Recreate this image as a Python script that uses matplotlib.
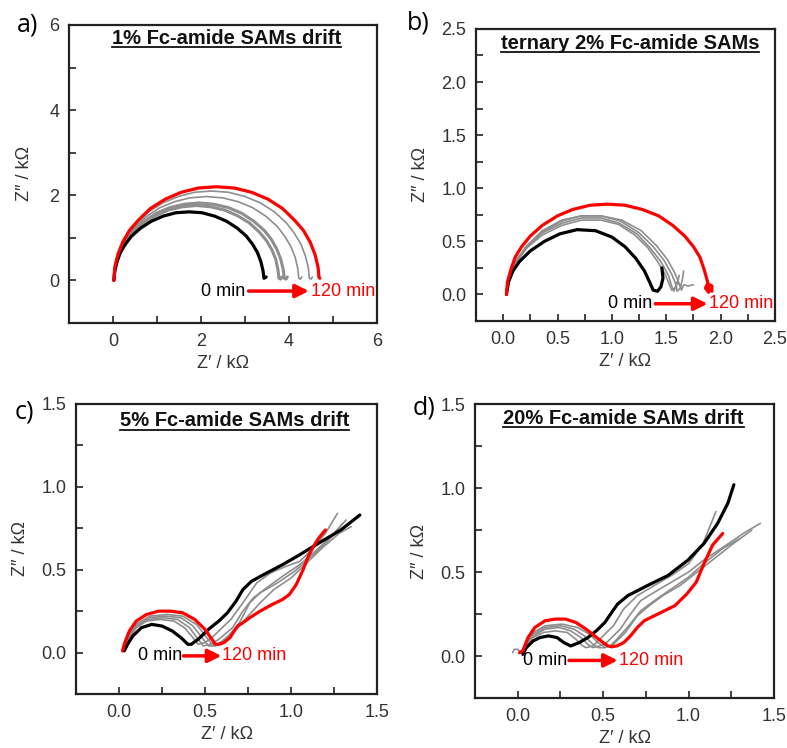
import matplotlib
matplotlib.use("Agg")
import matplotlib.pyplot as plt
from matplotlib.ticker import MultipleLocator
from matplotlib.lines import Line2D

plt.rcParams['font.family'] = ['Liberation Sans', 'DejaVu Sans']

RED = '#ff0000'
BLACK = '#000000'
GRAY = '#8e8e8e'

# ---------------- panel a: 1% Fc-amide ----------------
a_black_x = [0.02, 0.04, 0.09, 0.17, 0.28, 0.42, 0.63, 0.87, 1.14, 1.43, 1.73, 2.02, 2.31, 2.58, 2.82, 3.03, 3.17, 3.28, 3.36, 3.41, 3.43, 3.48]
a_black_y = [0.00, 0.22, 0.44, 0.66, 0.85, 1.04, 1.23, 1.39, 1.51, 1.59, 1.61, 1.59, 1.51, 1.39, 1.23, 1.04, 0.85, 0.66, 0.44, 0.22, 0.05, 0.08]
a_gray1_x = [0.02, 0.04, 0.09, 0.18, 0.30, 0.46, 0.69, 0.96, 1.25, 1.57, 1.90, 2.22, 2.54, 2.83, 3.10, 3.33, 3.49, 3.61, 3.70, 3.75, 3.77, 3.81, 3.84]
a_gray1_y = [0.00, 0.24, 0.49, 0.72, 0.93, 1.13, 1.35, 1.52, 1.65, 1.73, 1.76, 1.73, 1.65, 1.52, 1.35, 1.13, 0.93, 0.72, 0.49, 0.24, 0.05, 0.03, 0.08]
a_gray2_x = [0.02, 0.04, 0.10, 0.19, 0.31, 0.47, 0.71, 0.99, 1.29, 1.62, 1.96, 2.29, 2.62, 2.92, 3.20, 3.44, 3.60, 3.72, 3.81, 3.87, 3.89, 3.93, 3.96]
a_gray2_y = [0.00, 0.25, 0.50, 0.74, 0.96, 1.17, 1.39, 1.58, 1.71, 1.79, 1.82, 1.79, 1.71, 1.58, 1.39, 1.17, 0.96, 0.74, 0.50, 0.25, 0.05, 0.03, 0.08]
a_gray3_x = [0.02, 0.04, 0.10, 0.20, 0.34, 0.51, 0.77, 1.07, 1.40, 1.75, 2.12, 2.49, 2.84, 3.17, 3.47, 3.73, 3.90, 4.04, 4.14, 4.20, 4.22, 4.26, 4.29]
a_gray3_y = [0.00, 0.27, 0.54, 0.80, 1.04, 1.27, 1.51, 1.71, 1.85, 1.94, 1.97, 1.94, 1.85, 1.71, 1.51, 1.27, 1.04, 0.80, 0.54, 0.27, 0.05, 0.03, 0.08]
a_gray4_x = [0.02, 0.04, 0.11, 0.21, 0.36, 0.54, 0.81, 1.13, 1.48, 1.85, 2.24, 2.63, 3.00, 3.35, 3.67, 3.94, 4.12, 4.27, 4.37, 4.44, 4.46, 4.50, 4.53]
a_gray4_y = [0.00, 0.29, 0.58, 0.85, 1.11, 1.35, 1.61, 1.82, 1.97, 2.07, 2.10, 2.07, 1.97, 1.82, 1.61, 1.35, 1.11, 0.85, 0.58, 0.29, 0.05, 0.03, 0.08]
a_red_x = [0.02, 0.04, 0.11, 0.22, 0.37, 0.57, 0.85, 1.19, 1.55, 1.94, 2.35, 2.76, 3.15, 3.52, 3.85, 4.13, 4.33, 4.48, 4.59, 4.66, 4.68, 4.70]
a_red_y = [0.00, 0.31, 0.61, 0.90, 1.17, 1.41, 1.69, 1.91, 2.07, 2.17, 2.20, 2.17, 2.07, 1.91, 1.69, 1.41, 1.17, 0.90, 0.61, 0.31, 0.07, 0.05]

# ---------------- panel b: ternary 2% ----------------
b_black_x = [0.03, 0.05, 0.09, 0.15, 0.25, 0.38, 0.52, 0.68, 0.85, 1.00, 1.12, 1.22, 1.30, 1.35, 1.38, 1.42, 1.45, 1.47, 1.46]
b_black_y = [0.00, 0.12, 0.22, 0.31, 0.41, 0.50, 0.57, 0.61, 0.60, 0.54, 0.45, 0.34, 0.22, 0.11, 0.04, 0.03, 0.07, 0.15, 0.25]
b_gray1_x = [0.03, 0.06, 0.12, 0.22, 0.36, 0.54, 0.72, 0.90, 1.08, 1.25, 1.38, 1.48, 1.55, 1.59, 1.60, 1.63, 1.65, 1.66]
b_gray1_y = [0.00, 0.18, 0.32, 0.46, 0.59, 0.69, 0.74, 0.74, 0.69, 0.58, 0.45, 0.32, 0.19, 0.09, 0.03, 0.06, 0.15, 0.22]
b_gray2_x = [0.03, 0.06, 0.12, 0.22, 0.36, 0.54, 0.72, 0.90, 1.07, 1.23, 1.35, 1.45, 1.52, 1.55, 1.57, 1.60, 1.62]
b_gray2_y = [0.00, 0.17, 0.31, 0.45, 0.58, 0.67, 0.72, 0.72, 0.67, 0.57, 0.44, 0.31, 0.18, 0.08, 0.03, 0.10, 0.18]
b_gray3_x = [0.03, 0.06, 0.12, 0.22, 0.36, 0.54, 0.72, 0.90, 1.06, 1.21, 1.33, 1.42, 1.49, 1.53, 1.55, 1.58, 1.60, 1.63]
b_gray3_y = [0.00, 0.17, 0.30, 0.44, 0.56, 0.65, 0.70, 0.70, 0.66, 0.56, 0.44, 0.31, 0.19, 0.09, 0.04, 0.06, 0.12, 0.08]
b_gray4_x = [0.03, 0.06, 0.12, 0.22, 0.36, 0.54, 0.72, 0.90, 1.09, 1.27, 1.41, 1.51, 1.58, 1.62, 1.64, 1.66, 1.70, 1.75]
b_gray4_y = [0.00, 0.18, 0.32, 0.46, 0.60, 0.70, 0.74, 0.74, 0.70, 0.60, 0.46, 0.33, 0.20, 0.10, 0.04, 0.09, 0.08, 0.09]
b_red_x = [0.03, 0.04, 0.07, 0.11, 0.17, 0.25, 0.36, 0.50, 0.64, 0.80, 0.96, 1.12, 1.28, 1.43, 1.56, 1.67, 1.75, 1.81, 1.85, 1.88, 1.89, 1.92, 1.92, 1.88, 1.86, 1.89]
b_red_y = [0.00, 0.12, 0.23, 0.35, 0.45, 0.55, 0.65, 0.74, 0.80, 0.84, 0.85, 0.84, 0.80, 0.74, 0.65, 0.55, 0.45, 0.35, 0.23, 0.12, 0.05, 0.03, 0.08, 0.10, 0.06, 0.02]

# ---------------- panel c: 5% ----------------
c_black_x = [0.03, 0.05, 0.08, 0.13, 0.19, 0.25, 0.31, 0.36, 0.40, 0.42, 0.46, 0.52, 0.58, 0.63, 0.68, 0.72, 0.77, 0.84, 0.95, 1.05, 1.16, 1.29, 1.40]
c_black_y = [0.01, 0.05, 0.10, 0.15, 0.17, 0.16, 0.13, 0.09, 0.05, 0.05, 0.08, 0.14, 0.19, 0.24, 0.31, 0.38, 0.43, 0.47, 0.53, 0.59, 0.66, 0.74, 0.83]
c_gray1_x = [0.03, 0.06, 0.10, 0.16, 0.24, 0.32, 0.38, 0.43, 0.46, 0.50, 0.55, 0.60, 0.65, 0.72, 0.80, 0.88, 0.97, 1.05, 1.12, 1.20, 1.27]
c_gray1_y = [0.01, 0.09, 0.15, 0.19, 0.20, 0.19, 0.15, 0.09, 0.05, 0.06, 0.10, 0.15, 0.20, 0.30, 0.42, 0.48, 0.52, 0.55, 0.62, 0.72, 0.84]
c_gray2_x = [0.03, 0.06, 0.10, 0.17, 0.26, 0.34, 0.41, 0.46, 0.49, 0.53, 0.58, 0.66, 0.72, 0.78, 0.87, 0.95, 1.05, 1.15, 1.25, 1.32]
c_gray2_y = [0.01, 0.10, 0.16, 0.20, 0.21, 0.20, 0.15, 0.08, 0.04, 0.05, 0.08, 0.15, 0.25, 0.33, 0.40, 0.46, 0.53, 0.62, 0.72, 0.80]
c_gray3_x = [0.03, 0.06, 0.10, 0.17, 0.27, 0.36, 0.43, 0.49, 0.52, 0.56, 0.60, 0.68, 0.75, 0.82, 0.90, 1.00, 1.10, 1.18, 1.28, 1.35]
c_gray3_y = [0.01, 0.10, 0.17, 0.21, 0.22, 0.21, 0.16, 0.08, 0.04, 0.04, 0.07, 0.14, 0.22, 0.30, 0.38, 0.45, 0.55, 0.63, 0.72, 0.76]
c_gray4_x = [0.03, 0.06, 0.10, 0.18, 0.28, 0.37, 0.45, 0.51, 0.54, 0.58, 0.62, 0.70, 0.76, 0.82, 0.92, 1.02, 1.12, 1.22, 1.30]
c_gray4_y = [0.01, 0.11, 0.17, 0.22, 0.23, 0.22, 0.17, 0.09, 0.05, 0.05, 0.08, 0.18, 0.30, 0.36, 0.42, 0.49, 0.58, 0.68, 0.78]
c_red_x = [0.02, 0.03, 0.06, 0.10, 0.16, 0.23, 0.30, 0.37, 0.44, 0.50, 0.54, 0.56, 0.58, 0.61, 0.645, 0.67, 0.69, 0.72, 0.76, 0.82, 0.89, 0.95, 0.99, 1.03, 1.07, 1.10, 1.13, 1.16, 1.20]
c_red_y = [0.01, 0.05, 0.13, 0.19, 0.23, 0.25, 0.25, 0.24, 0.20, 0.14, 0.08, 0.05, 0.05, 0.06, 0.09, 0.13, 0.16, 0.18, 0.21, 0.25, 0.29, 0.32, 0.35, 0.41, 0.50, 0.58, 0.64, 0.69, 0.74]

# ---------------- panel d: 20% ----------------
d_black_x = [0.03, 0.05, 0.09, 0.13, 0.18, 0.23, 0.27, 0.31, 0.36, 0.41, 0.46, 0.51, 0.55, 0.585, 0.645, 0.76, 0.88, 0.995, 1.09, 1.17, 1.23, 1.265]
d_black_y = [0.01, 0.05, 0.09, 0.11, 0.12, 0.11, 0.08, 0.06, 0.08, 0.11, 0.15, 0.20, 0.26, 0.31, 0.36, 0.42, 0.48, 0.57, 0.67, 0.79, 0.91, 1.02]
d_gray1_x = [-0.03, -0.02, 0.00, 0.02, 0.05, 0.09, 0.15, 0.22, 0.29, 0.34, 0.38, 0.40, 0.44, 0.48, 0.56, 0.62, 0.70, 0.80, 0.90, 1.00, 1.08, 1.16]
d_gray1_y = [0.02, 0.04, 0.04, 0.02, 0.07, 0.11, 0.14, 0.15, 0.14, 0.10, 0.06, 0.05, 0.06, 0.10, 0.18, 0.28, 0.36, 0.42, 0.48, 0.55, 0.66, 0.86]
d_gray2_x = [0.02, 0.05, 0.09, 0.16, 0.24, 0.31, 0.37, 0.41, 0.44, 0.48, 0.52, 0.60, 0.66, 0.72, 0.80, 0.90, 1.00, 1.10, 1.22, 1.32, 1.42]
d_gray2_y = [0.02, 0.08, 0.12, 0.16, 0.17, 0.15, 0.11, 0.07, 0.05, 0.06, 0.08, 0.16, 0.25, 0.33, 0.38, 0.44, 0.50, 0.58, 0.66, 0.73, 0.79]
d_gray3_x = [0.02, 0.05, 0.09, 0.16, 0.25, 0.33, 0.39, 0.44, 0.47, 0.51, 0.56, 0.63, 0.70, 0.77, 0.85, 0.95, 1.05, 1.15, 1.25, 1.37]
d_gray3_y = [0.02, 0.08, 0.13, 0.17, 0.18, 0.16, 0.12, 0.07, 0.05, 0.05, 0.07, 0.14, 0.24, 0.30, 0.36, 0.42, 0.50, 0.58, 0.66, 0.75]
d_gray4_x = [0.02, 0.05, 0.09, 0.16, 0.26, 0.35, 0.42, 0.47, 0.50, 0.54, 0.58, 0.65, 0.72, 0.80, 0.90, 1.00, 1.10, 1.20, 1.30]
d_gray4_y = [0.02, 0.09, 0.14, 0.18, 0.19, 0.17, 0.13, 0.08, 0.06, 0.06, 0.10, 0.18, 0.27, 0.33, 0.40, 0.47, 0.56, 0.64, 0.70]
d_red_x = [0.01, 0.03, 0.06, 0.10, 0.16, 0.22, 0.28, 0.34, 0.40, 0.45, 0.50, 0.53, 0.55, 0.58, 0.62, 0.66, 0.70, 0.74, 0.82, 0.92, 0.99, 1.045, 1.09, 1.14, 1.20]
d_red_y = [0.02, 0.03, 0.11, 0.17, 0.21, 0.22, 0.22, 0.20, 0.16, 0.12, 0.08, 0.06, 0.055, 0.06, 0.08, 0.12, 0.17, 0.21, 0.25, 0.30, 0.37, 0.44, 0.55, 0.66, 0.73]

titles = ['1% Fc-amide SAMs drift', 'ternary 2% Fc-amide SAMs',
          '5% Fc-amide SAMs drift', '20% Fc-amide SAMs drift']
panel_letters = ['a)', 'b)', 'c)', 'd)']
start_label = '0 min'
end_label = '120 min'
xlabel = 'Z\u2032 / k\u03a9'
ylabel = 'Z\u2033 / k\u03a9'

fig = plt.figure(figsize=(7.87, 7.48), dpi=100)

panels = [
    dict(rect=[0.0877, 0.5682, 0.3914, 0.3984], xlim=(-1, 6), ylim=(-1, 6), major=2, minor=1, fmt='{:.0f}',
         grays=[(a_gray1_x, a_gray1_y, 2.2), (a_gray2_x, a_gray2_y, 2.2), (a_gray3_x, a_gray3_y, 1.2), (a_gray4_x, a_gray4_y, 1.2)],
         black=(a_black_x, a_black_y), red=(a_red_x, a_red_y),
         ann=dict(y=-0.25, t0=3.01, a0=3.08, a1=4.45, t1=4.50), ylpad=12,
         title_xy=(0.511, 0.955), letter_xy=(0.022, 0.967)),
    dict(rect=[0.6048, 0.5709, 0.3799, 0.3904], xlim=(-0.25, 2.5), ylim=(-0.25, 2.5), major=0.5, minor=0.25, fmt='{:.1f}',
         grays=[(b_gray1_x, b_gray1_y, 1.2), (b_gray2_x, b_gray2_y, 1.2), (b_gray3_x, b_gray3_y, 1.2), (b_gray4_x, b_gray4_y, 1.2)],
         black=(b_black_x, b_black_y), red=(b_red_x, b_red_y),
         ann=dict(y=-0.088, t0=1.37, a0=1.40, a1=1.88, t1=1.89), ylpad=9,
         title_xy=(0.515, 0.951), letter_xy=(0.517, 0.969)),
    dict(rect=[0.0966, 0.0722, 0.3825, 0.3877], xlim=(-0.25, 1.5), ylim=(-0.25, 1.5), major=0.5, minor=0.25, fmt='{:.1f}',
         grays=[(c_gray1_x, c_gray1_y, 1.2), (c_gray2_x, c_gray2_y, 1.2), (c_gray3_x, c_gray3_y, 1.2), (c_gray4_x, c_gray4_y, 1.2)],
         black=(c_black_x, c_black_y), red=(c_red_x, c_red_y),
         ann=dict(y=-0.02, t0=0.365, a0=0.375, a1=0.595, t1=0.60), ylpad=9,
         title_xy=(0.526, 0.942), letter_xy=(0.019, 0.449)),
    dict(rect=[0.6036, 0.0668, 0.3799, 0.3930], xlim=(-0.25, 1.5), ylim=(-0.25, 1.5), major=0.5, minor=0.25, fmt='{:.1f}',
         grays=[(d_gray1_x, d_gray1_y, 1.2), (d_gray2_x, d_gray2_y, 1.2), (d_gray3_x, d_gray3_y, 1.2), (d_gray4_x, d_gray4_y, 1.2)],
         black=(d_black_x, d_black_y), red=(d_red_x, d_red_y),
         ann=dict(y=-0.026, t0=0.29, a0=0.30, a1=0.585, t1=0.59), ylpad=9,
         title_xy=(0.497, 0.951), letter_xy=(0.524, 0.454)),
]

title_artists = []
for i, p in enumerate(panels):
    ax = fig.add_axes(p['rect'])
    for gx, gy, lw in p['grays']:
        ax.plot(gx, gy, color=GRAY, lw=lw, solid_joinstyle='round', solid_capstyle='round', zorder=2)
    ax.plot(*p['black'], color=BLACK, lw=2.3, solid_joinstyle='round', solid_capstyle='round', zorder=3)
    ax.plot(*p['red'], color=RED, lw=2.3, solid_joinstyle='round', solid_capstyle='round', zorder=4)
    ax.set_xlim(*p['xlim'])
    ax.set_ylim(*p['ylim'])
    ax.xaxis.set_major_locator(MultipleLocator(p['major']))
    ax.xaxis.set_minor_locator(MultipleLocator(p['minor']))
    ax.yaxis.set_major_locator(MultipleLocator(p['major']))
    ax.yaxis.set_minor_locator(MultipleLocator(p['minor']))
    fmt = p['fmt']
    ax.xaxis.set_major_formatter(plt.FuncFormatter(lambda v, pos, f=fmt: f.format(v)))
    ax.yaxis.set_major_formatter(plt.FuncFormatter(lambda v, pos, f=fmt: f.format(v)))
    ax.tick_params(which='both', direction='in', length=5, width=1.2, top=False, right=False,
                   labelsize=13, labelcolor='#333333', color='#222222')
    ax.tick_params(which='major', pad=7)
    for s in ax.spines.values():
        s.set_linewidth(1.6)
        s.set_color('#222222')
    ax.set_xlabel(xlabel, fontsize=13, color='#333333', labelpad=4)
    ax.set_ylabel(ylabel, fontsize=13, color='#333333', labelpad=p['ylpad'])

    an = p['ann']
    ax.text(an['t0'], an['y'], start_label, color=BLACK, fontsize=13, ha='right', va='center', zorder=6)
    ax.annotate('', xy=(an['a1'], an['y']), xytext=(an['a0'], an['y']),
                arrowprops=dict(arrowstyle='-|>', color=RED, lw=2.5, mutation_scale=20,
                                shrinkA=0, shrinkB=0), zorder=6)
    ax.text(an['t1'], an['y'], end_label, color=RED, fontsize=13, ha='left', va='center', zorder=6)

    t = ax.text(p['title_xy'][0], p['title_xy'][1], titles[i], transform=ax.transAxes,
                ha='center', va='center', fontsize=14.5, fontweight='bold', color='#111111')
    title_artists.append(t)
    fig.text(p['letter_xy'][0], p['letter_xy'][1], panel_letters[i], fontsize=18,
             ha='left', va='center', family=['Open Sans', 'DejaVu Sans'])

fig.canvas.draw()
renderer = fig.canvas.get_renderer()
inv = fig.transFigure.inverted()
for t in title_artists:
    bb = t.get_window_extent(renderer)
    (x0, y0), (x1, y1) = inv.transform([[bb.x0, bb.y0], [bb.x1, bb.y1]])
    fig.add_artist(Line2D([x0, x1], [y0 + 0.001, y0 + 0.001], transform=fig.transFigure,
                          color='#111111', lw=1.3))

fig.savefig('out.png', dpi=100)
